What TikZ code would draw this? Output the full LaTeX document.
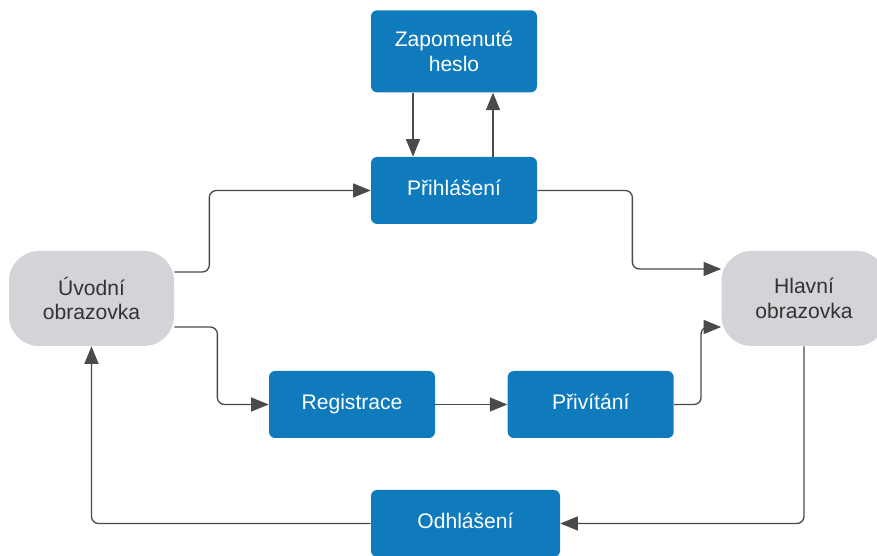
\documentclass[tikz,border=0pt]{standalone}
\usepackage{fontspec}
\setmainfont{Liberation Sans}
\usetikzlibrary{arrows.meta,positioning,calc}

\definecolor{boxblue}{HTML}{0F7BBD}
\definecolor{screengray}{HTML}{D3D4D7}
\definecolor{linegray}{HTML}{4A4A4A}
\definecolor{textgray}{HTML}{333333}

\begin{document}
\begin{tikzpicture}[>={Triangle[length=10pt,width=8pt]}, font=\fontsize{12}{14}\selectfont,
  stepbox/.style={fill=boxblue, text=white, rounded corners=3.5pt, align=center,
    minimum width=3.32cm, minimum height=1.34cm, inner sep=0pt},
  oneline/.style={text height=8.6pt, text depth=2.6pt},
  screen/.style={fill=screengray, text=textgray, rounded corners=0.6cm, align=center,
    minimum width=3.3cm, minimum height=1.9cm, inner sep=0pt},
  flow/.style={->, draw=linegray, line width=0.75pt, rounded corners=4pt}]
  \useasboundingbox (0,0) rectangle (17.54,11.12);

  % screens
  \node[screen] (uvod) at (1.83,5.15) {Úvodní\\obrazovka};
  \node[screen] (hlav) at (16.08,5.15) {Hlavní\\obrazovka};

  % login branch
  \node[stepbox, oneline] (prih) at (9.08,7.31) {Přihlášení};
  \node[stepbox, minimum height=1.64cm, above=1.28cm of prih] (zap) {Zapomenuté\\heslo};

  % registration branch
  \node[stepbox, oneline] (reg) at (7.04,3.03) {Registrace};
  \node[stepbox, oneline, right=1.44cm of reg] (priv) {Přivítání};

  % logout
  \node[stepbox, oneline, minimum width=3.78cm] (odhl) at (9.31,0.65) {Odhlášení};

  % connectors
  \draw[flow] ([xshift=-0.82cm]zap.south) -- ([xshift=-0.82cm]prih.north);
  \draw[flow] ([xshift=0.78cm]prih.north) -- ([xshift=0.78cm]zap.south);
  \draw[flow] ([yshift=0.53cm]uvod.east) -- ++(0.7,0) |- (prih.west);
  \draw[flow] ([yshift=-0.57cm]uvod.east) -- ++(0.86,0) |- (reg.west);
  \draw[flow] (reg.east) -- (priv.west);
  \draw[flow] (prih.east) -- ++(1.9,0) |- ([yshift=0.59cm]hlav.west);
  \draw[flow] (priv.east) -- ++(0.54,0) |- ([yshift=-0.57cm]hlav.west);
  \draw[flow] (hlav.south) |- (odhl.east);
  \draw[flow] (odhl.west) -| (uvod.south);
\end{tikzpicture}
\end{document}
